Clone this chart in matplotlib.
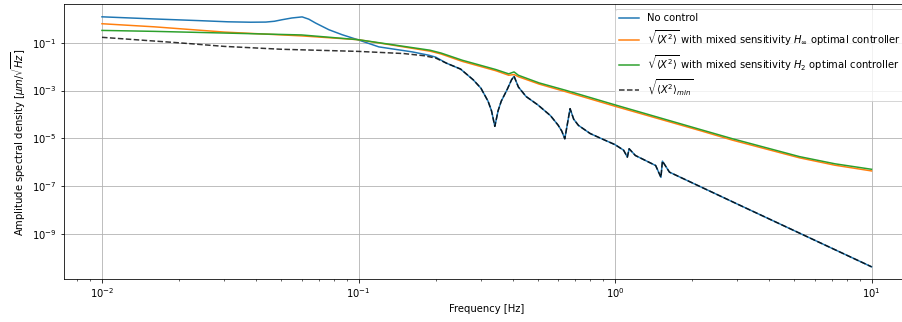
import matplotlib
matplotlib.use("Agg")
import matplotlib.pyplot as plt
from matplotlib.ticker import LogLocator, NullLocator

# amplitude spectral densities [um/sqrt(Hz)] read per frequency [Hz]

# lower bound of the output, shared by the open loop above ~0.2 Hz
f_min = [0.01, 0.02, 0.03, 0.05, 0.1, 0.15, 0.18, 0.2, 0.22, 0.25, 0.28, 0.30,
         0.32, 0.33, 0.34, 0.35, 0.36, 0.38, 0.395, 0.404, 0.42, 0.45, 0.50,
         0.56, 0.60, 0.62, 0.637, 0.668, 0.69, 0.72, 0.80, 0.90, 1.0, 1.08,
         1.117, 1.135, 1.2, 1.44, 1.51, 1.53, 1.63, 3.0, 10.0]
asd_min = [0.170, 0.100, 0.0708, 0.0537, 0.0437, 0.0355, 0.0288, 0.0229,
           0.0141, 0.00794, 0.00282, 0.00126, 3.55e-4, 1.41e-4, 3.16e-5,
           1.41e-4, 3.55e-4, 1.12e-3, 2.82e-3, 3.98e-3, 1.41e-3, 5.62e-4,
           2.51e-4, 8.91e-5, 3.55e-5, 2.0e-5, 9.5e-6, 1.74e-4, 6.3e-5, 3.47e-5,
           1.58e-5, 8.9e-6, 5.4e-6, 3.16e-6, 1.62e-6, 3.63e-6, 1.9e-6, 7.2e-7,
           2.3e-7, 1.1e-6, 3.8e-7, 1.74e-8, 4.1e-11]

# open loop below 0.2 Hz (with the 0.06 Hz resonance)
f_open_low = [0.01, 0.016, 0.024, 0.031, 0.038, 0.0435, 0.047, 0.0504, 0.055,
              0.0603, 0.064, 0.068, 0.0766, 0.0863, 0.1, 0.12, 0.162, 0.188,
              0.2]
asd_open_low = [1.23, 1.0, 0.85, 0.76, 0.73, 0.74, 0.80, 0.93, 1.10, 1.22,
                0.98, 0.676, 0.355, 0.219, 0.132, 0.0676, 0.0417, 0.0302,
                0.0251]

f_ctrl = [0.01, 0.016, 0.03, 0.06, 0.1, 0.14, 0.19, 0.21, 0.254, 0.343, 0.385,
          0.404, 0.42, 0.506, 0.643, 1.0, 2.13, 2.87, 5.24, 7.2, 10.0]
asd_hinf = [0.631, 0.468, 0.282, 0.195, 0.135, 0.0759, 0.0447, 0.0339, 0.0166,
            6.76e-3, 4.37e-3, 4.68e-3, 3.80e-3, 1.86e-3, 8.91e-4, 2.19e-4,
            2.14e-5, 8.32e-6, 1.51e-6, 7.41e-7, 4.27e-7]
asd_h2 = [0.331, 0.302, 0.257, 0.214, 0.135, 0.0794, 0.0490, 0.0372, 0.0186,
          7.59e-3, 5.01e-3, 6.03e-3, 4.37e-3, 2.09e-3, 1.02e-3, 2.51e-4,
          2.40e-5, 9.55e-6, 1.70e-6, 8.51e-7, 5.01e-7]

n_low = sum(f < 0.21 for f in f_min)
f_open = f_open_low + f_min[n_low:]
asd_open = asd_open_low + asd_min[n_low:]

fig = plt.figure(figsize=(902 / 72, 322 / 72), dpi=72)
ax = fig.add_axes([0.0704, 0.1326, 0.9385, 0.854])

ax.loglog(f_open, asd_open, label="No control")
ax.loglog(f_ctrl, asd_hinf,
          label=r"$\sqrt{\langle X^2 \rangle}$ with mixed sensitivity $H_\infty$ optimal controller")
ax.loglog(f_ctrl, asd_h2,
          label=r"$\sqrt{\langle X^2 \rangle}$ with mixed sensitivity $H_2$ optimal controller")
ax.loglog(f_min, asd_min, "k--", alpha=0.8,
          label=r"$\sqrt{\langle X^2 \rangle_{min}}$")

ax.set_yticks([1e-1, 1e-3, 1e-5, 1e-7, 1e-9])
ax.yaxis.set_minor_locator(NullLocator())
ax.xaxis.set_minor_locator(LogLocator(base=10, subs=range(2, 10)))

ax.set_xlabel("Frequency [Hz]")
ax.set_ylabel(r"Amplitude spectral density [$\mu m/\sqrt{Hz}$]")
ax.grid(True, which="major")
ax.legend(loc="upper right")

fig.savefig("out.png", dpi=72)
